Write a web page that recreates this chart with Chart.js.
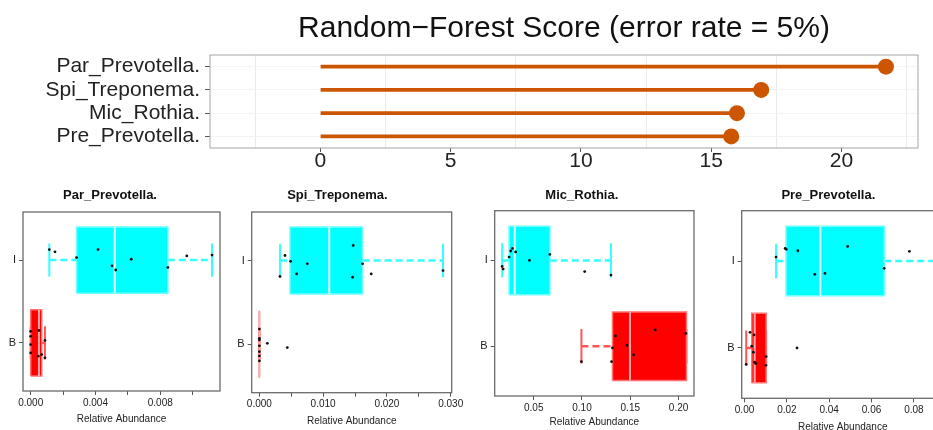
<!DOCTYPE html>
<html>
<head>
<meta charset="utf-8">
<script src="https://cdn.jsdelivr.net/npm/chart.js@4.4.1/dist/chart.umd.min.js"></script>
<style>
  html, body { margin: 0; padding: 0; background: #fff; }
  body { width: 933px; height: 430px; position: relative; overflow: hidden; }
  canvas { position: absolute; }
</style>
</head>
<body>
<script>
// --- top panel: random forest score ---
const rfTitle = "Random\u2212Forest Score (error rate = 5%)";
const rfTaxa = ["Par_Prevotella.", "Spi_Treponema.", "Mic_Rothia.", "Pre_Prevotella."];
const rfScore = [21.71, 16.92, 15.99, 15.77];

// --- box panels: [low whisker, q1, median, q3, high whisker], points, vertical jitter ---
const parStatsI = [0.00115, 0.00283, 0.00519, 0.00847, 0.0112];
const parPtsI = [0.00115, 0.0015, 0.00283, 0.00416, 0.00502, 0.00525, 0.00621, 0.00847, 0.00964, 0.0112];
const parJitI = [0.127, 0.10, 0.03, 0.127, -0.07, -0.12, 0.01, -0.09, 0.05, 0.06];
const parStatsB = [0, 0, 0.00051, 0.00068, 0.00088];
const parPtsB = [0, 0, 0, 0, 0.00051, 0.00068, 0.00047, 0.00088, 0.00088];
const parJitB = [0.14, 0.08, -0.02, -0.12, 0.15, -0.14, -0.16, 0.03, -0.18];

const spiStatsI = [0.00324, 0.0048, 0.01096, 0.01618, 0.0288];
const spiPtsI = [0.00324, 0.00402, 0.0049, 0.00585, 0.00752, 0.01472, 0.01461, 0.01618, 0.01754, 0.0288];
const spiJitI = [-0.19, 0.06, -0.01, -0.16, -0.04, 0.18, -0.20, -0.04, -0.16, -0.12];
const spiStatsB = [0, 0, 0, 0, 0];
const spiPtsB = [0, 0, 0, 0, 0, 0, 0, 0.00125, 0.00438];
const spiJitB = [0.18, 0.07, 0.05, -0.02, -0.09, -0.14, -0.20, 0.01, -0.04];

const micStatsI = [0.0173, 0.0245, 0.0303, 0.0667, 0.130];
const micPtsI = [0.0173, 0.0184, 0.0245, 0.0262, 0.028, 0.0313, 0.0456, 0.0667, 0.1028, 0.130];
const micJitI = [-0.07, -0.10, 0.04, 0.11, 0.14, 0.10, 0.0, 0.07, -0.13, -0.17];
const micStatsB = [0.0994, 0.1316, 0.1497, 0.2082, 0.2082];
const micPtsB = [0.0994, 0.1306, 0.1316, 0.1347, 0.1466, 0.1535, 0.1759, 0.2076];
const micJitB = [-0.18, -0.18, -0.02, 0.12, 0.01, -0.10, 0.19, 0.15];

const preStatsI = [0.0149, 0.0196, 0.0358, 0.066, 0.0905];
const prePtsI = [0.0149, 0.0192, 0.0197, 0.0252, 0.0332, 0.038, 0.0487, 0.066, 0.0779, 0.0905];
const preJitI = [0.046, 0.146, 0.135, 0.119, -0.153, -0.142, 0.169, -0.084, 0.112, 0.0];
const preStatsB = [0.0008, 0.0034, 0.0048, 0.0102, 0.0102];
const prePtsB = [0.0008, 0.0026, 0.0045, 0.0034, 0.0042, 0.0048, 0.0053, 0.0102, 0.0101, 0.0248];
const preJitB = [-0.19, 0.18, 0.15, 0.02, -0.05, -0.165, -0.18, -0.10, -0.2, 0.0];

const groupLabels = ["B", "I"];

Chart.defaults.font.family = "'Liberation Sans', Arial, sans-serif";
Chart.defaults.color = "#222";

const lolly = "#cc5500";
const cyanCol = { fill: "#00ffff", edge: "#6fffff", med: "#e6ffff", wh: "#33ffff" };
const redCol = { fill: "#ff0000", edge: "#ff7070", med: "#ffa8a8", wh: "#ff5555" };

// plot frame (box round the chart area)
const framePlugin = {
  id: "frame",
  afterDraw(chart, args, opts) {
    const { ctx, chartArea: a } = chart;
    ctx.save();
    ctx.strokeStyle = opts.color;
    ctx.lineWidth = opts.width;
    ctx.strokeRect(a.left, a.top, a.right - a.left, a.bottom - a.top);
    ctx.restore();
  }
};

function makeCanvas(left, top, w, h) {
  const c = document.createElement("canvas");
  c.width = w;
  c.height = h;
  c.style.left = left + "px";
  c.style.top = top + "px";
  document.body.appendChild(c);
  return c;
}

// --- TOP LOLLIPOP CHART ---
const isMajor = v => Math.abs(v % 5) < 1e-9;

new Chart(makeCanvas(0, 0, 933, 180), {
  type: "bar",
  data: {
    labels: rfTaxa,
    datasets: [
      { type: "line", data: rfScore, showLine: false, pointRadius: 8, pointBackgroundColor: lolly, pointBorderWidth: 0, order: 0 },
      { data: rfScore, backgroundColor: lolly, barThickness: 3, order: 1 }
    ]
  },
  options: {
    indexAxis: "y",
    responsive: false,
    animation: false,
    events: [],
    layout: { padding: { right: 15 } },
    plugins: {
      legend: { display: false },
      tooltip: { enabled: false },
      title: { display: true, text: rfTitle, fullSize: false, color: "#111", font: { size: 30, weight: "normal" }, padding: { top: 11, bottom: 8 } },
      frame: { color: "#a5a5a5", width: 1 }
    },
    scales: {
      x: {
        type: "linear", min: -4.24, max: 22.94,
        grid: {
          color: c => (isMajor(c.tick.value) ? "rgba(0,0,0,0)" : "#ebebeb"),
          tickColor: c => (isMajor(c.tick.value) ? "#555" : "rgba(0,0,0,0)"),
          tickLength: 4
        },
        border: { display: false },
        ticks: {
          stepSize: 2.5, autoSkip: false, includeBounds: false, padding: -3,
          font: { size: 21 },
          callback: v => (isMajor(v) ? String(v) : "")
        },
        afterFit: s => { s.height = 32; }
      },
      y: {
        grid: { offset: false, color: "#f4f4f4", tickColor: "#555", tickLength: 5 },
        border: { display: false },
        ticks: { autoSkip: false, padding: 5, font: { size: 21 } },
        afterFit: s => { s.width = 210; }
      }
    }
  },
  plugins: [framePlugin]
});

// --- BOX PANELS ---
function seg(x1, y1, x2, y2, color, width, dash, order) {
  return {
    data: [{ x: x1, y: y1 }, { x: x2, y: y2 }],
    borderColor: color, borderWidth: width, borderDash: dash || [],
    pointRadius: 0, fill: false, order: order
  };
}

function boxSets(stats, pts, jit, g, col) {
  const [lo, q1, med, q3, hi] = stats;
  const h = 0.4, cap = 0.2;
  return [
    {
      data: pts.map((v, i) => ({ x: v, y: g + jit[i] })),
      showLine: false, pointRadius: 1.4, pointBackgroundColor: "#111", pointBorderWidth: 0, order: 0
    },
    seg(med, g - h, med, g + h, col.med, 2, null, 1),
    {
      data: [{ x: q1, y: g - h }, { x: q3, y: g - h }, { x: q3, y: g + h }, { x: q1, y: g + h }, { x: q1, y: g - h }],
      borderColor: col.edge, backgroundColor: col.fill, borderWidth: 1.5, fill: "shape", pointRadius: 0, order: 2
    },
    seg(lo, g - cap, lo, g + cap, col.wh, 2, null, 3),
    seg(hi, g - cap, hi, g + cap, col.wh, 2, null, 3),
    seg(lo, g, q1, g, col.wh, 2.5, [7, 4], 4),
    seg(q3, g, hi, g, col.wh, 2.5, [7, 4], 4)
  ];
}

const panels = [
  { title: "Par_Prevotella.", sI: parStatsI, pI: parPtsI, jI: parJitI, sB: parStatsB, pB: parPtsB, jB: parJitB,
    xMin: -0.000475, xMax: 0.01169, step: 0.002, labStep: 0.004, dec: 3,
    left: 0, width: 240, yw: 23, padR: 20, titleGap: 9.2, xh: 45, axisPad: 10.7 },
  { title: "Spi_Treponema.", sI: spiStatsI, pI: spiPtsI, jI: spiJitI, sB: spiStatsB, pB: spiPtsB, jB: spiJitB,
    xMin: -0.0012, xMax: 0.03016, step: 0.005, labStep: 0.01, dec: 3,
    left: 223, width: 257, yw: 28.7, padR: 28.3, titleGap: 9.2, xh: 43.3, axisPad: 8.3 },
  { title: "Mic_Rothia.", sI: micStatsI, pI: micPtsI, jI: micJitI, sB: micStatsB, pB: micPtsB, jB: micJitB,
    xMin: 0.0096, xMax: 0.216, step: 0.05, labStep: 0.05, dec: 2,
    left: 467, width: 231, yw: 27.7, padR: 1.3, titleGap: 7.9, xh: 40, axisPad: 7.7 },
  { title: "Pre_Prevotella.", sI: preStatsI, pI: prePtsI, jI: preJitI, sB: preStatsB, pB: prePtsB, jB: preJitB,
    xMin: -0.00134, xMax: 0.0941, step: 0.02, labStep: 0.02, dec: 2,
    left: 713, width: 261, yw: 28.7, padR: 30.3, titleGap: 7.9, xh: 37.7, axisPad: 3 }
];

panels.forEach(p => {
  const datasets = [
    ...boxSets(p.sI, p.pI, p.jI, 2, cyanCol),
    ...boxSets(p.sB, p.pB, p.jB, 1, redCol)
  ];
  new Chart(makeCanvas(p.left, 180, p.width, 256), {
    type: "line",
    data: { datasets },
    options: {
      responsive: false,
      animation: false,
      events: [],
      layout: { padding: { right: p.padR } },
      plugins: {
        legend: { display: false },
        tooltip: { enabled: false },
        title: { display: true, text: p.title, color: "#111", font: { size: 13, weight: "bold", lineHeight: 1.2 }, padding: { top: 7.2, bottom: p.titleGap } },
        frame: { color: "#6a6a6a", width: 1.3 }
      },
      scales: {
        x: {
          type: "linear", min: p.xMin, max: p.xMax,
          grid: { drawOnChartArea: false, tickLength: 4, tickColor: "#555" },
          border: { display: false },
          ticks: {
            stepSize: p.step, autoSkip: false, includeBounds: false, padding: 2, maxRotation: 0,
            font: { size: 10 },
            callback: v => {
              const k = Math.round(v / p.labStep);
              return Math.abs(v - k * p.labStep) < 1e-9 ? v.toFixed(p.dec) : "";
            }
          },
          title: { display: true, text: "Relative Abundance", font: { size: 10 }, padding: { top: 0, bottom: p.axisPad } },
          afterFit: s => { s.height = p.xh; }
        },
        y: {
          type: "linear", min: 0.42, max: 2.58,
          grid: { drawOnChartArea: false, tickLength: 4, tickColor: "#555" },
          border: { display: false },
          afterBuildTicks: s => { s.ticks = [{ value: 1 }, { value: 2 }]; },
          ticks: { padding: 3, font: { size: 11 }, callback: v => groupLabels[Math.round(v) - 1] },
          afterFit: s => { s.width = p.yw; }
        }
      }
    },
    plugins: [framePlugin]
  });
});
</script>
</body>
</html>
